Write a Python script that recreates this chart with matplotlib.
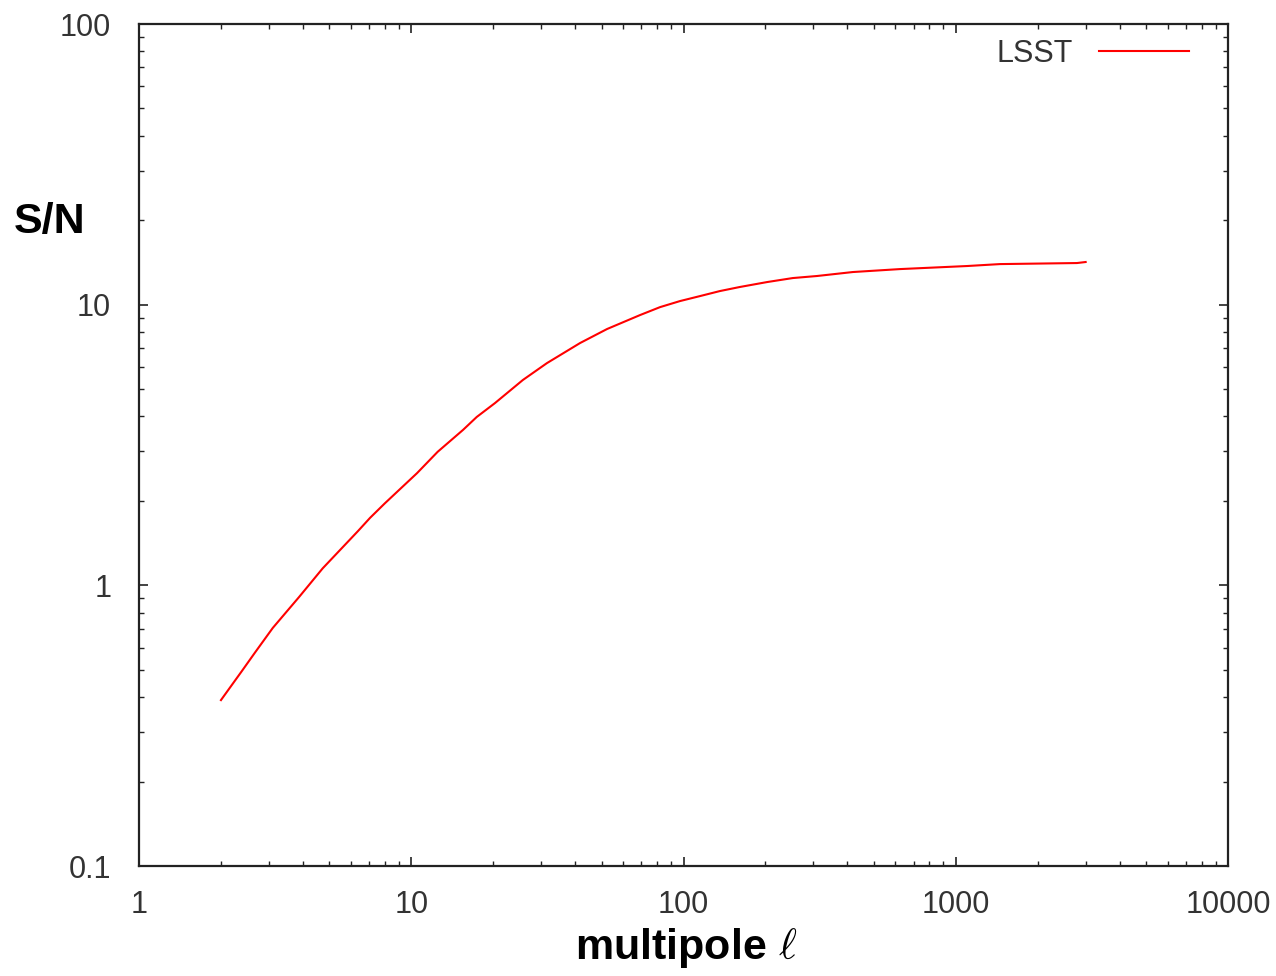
import matplotlib
matplotlib.use('Agg')
import matplotlib.pyplot as plt
from matplotlib.ticker import LogLocator, FuncFormatter, NullFormatter

# S/N curve (multipole l vs cumulative S/N)
ell = [2.0, 2.38, 2.66, 3.10, 3.87, 4.73, 6.37, 7.06, 8.0, 10.5, 12.5, 15.5,
       17.4, 20.3, 25.7, 31.5, 41.7, 52.4, 69.2, 82.0, 97.1, 115, 136, 161,
       203, 252, 309, 419, 624, 1100, 1454, 2788, 3000]
sn = [0.390, 0.493, 0.574, 0.705, 0.908, 1.15, 1.56, 1.74, 1.96, 2.51, 2.99,
      3.58, 3.98, 4.46, 5.39, 6.19, 7.30, 8.19, 9.18, 9.80, 10.30, 10.73,
      11.18, 11.56, 12.04, 12.44, 12.65, 13.07, 13.39, 13.73, 13.95, 14.07,
      14.19]
series_label = 'LSST'

plt.rcParams['mathtext.fontset'] = 'cm'
tick_font = ['Liberation Sans', 'DejaVu Sans']
label_font = ['Liberation Sans', 'DejaVu Sans']

fig = plt.figure(figsize=(12.76, 9.76), dpi=100)
ax = fig.add_axes([139/1276, 110/976, 1089/1276, 842/976])

ax.plot(ell, sn, color='#ff0000', lw=1.5, label=series_label)

ax.set_xscale('log')
ax.set_yscale('log')
ax.set_xlim(1, 10000)
ax.set_ylim(0.1, 100)

fmt = FuncFormatter(lambda v, p: '%g' % v)
for axis in (ax.xaxis, ax.yaxis):
    axis.set_major_locator(LogLocator(base=10))
    axis.set_minor_locator(LogLocator(base=10, subs=range(2, 10)))
    axis.set_major_formatter(fmt)
    axis.set_minor_formatter(NullFormatter())

ax.tick_params(which='both', direction='in', top=True, right=True, colors='#222222',
               labelcolor='#333333', labelsize=22)
ax.tick_params(which='major', length=6.5, width=1.2)
ax.tick_params(which='minor', length=3.6, width=1.0)
ax.tick_params(axis='y', pad=20)
ax.tick_params(axis='x', pad=17)
for lab in ax.get_xticklabels() + ax.get_yticklabels():
    lab.set_family(tick_font)
for s in ax.spines.values():
    s.set_linewidth(1.6)
    s.set_color('#222222')

ax.set_xlabel(r'multipole $\ell$', fontsize=31, fontweight='bold', family=label_font, va='center')
ax.xaxis.set_label_coords(0.502, -0.097)
ax.set_ylabel('S/N', fontsize=31, fontweight='bold', family=label_font, rotation=0,
              va='center', ha='center')
ax.yaxis.set_label_coords(-0.0817, 0.765)

leg = ax.legend(loc='upper right', bbox_to_anchor=(0.964, 0.982), frameon=False,
                markerfirst=False, handlelength=2.95, handletextpad=0.85,
                borderpad=0, borderaxespad=0, prop={'family': tick_font, 'size': 22})
for t in leg.get_texts():
    t.set_color('#333333')

fig.savefig('out.png', dpi=100)
